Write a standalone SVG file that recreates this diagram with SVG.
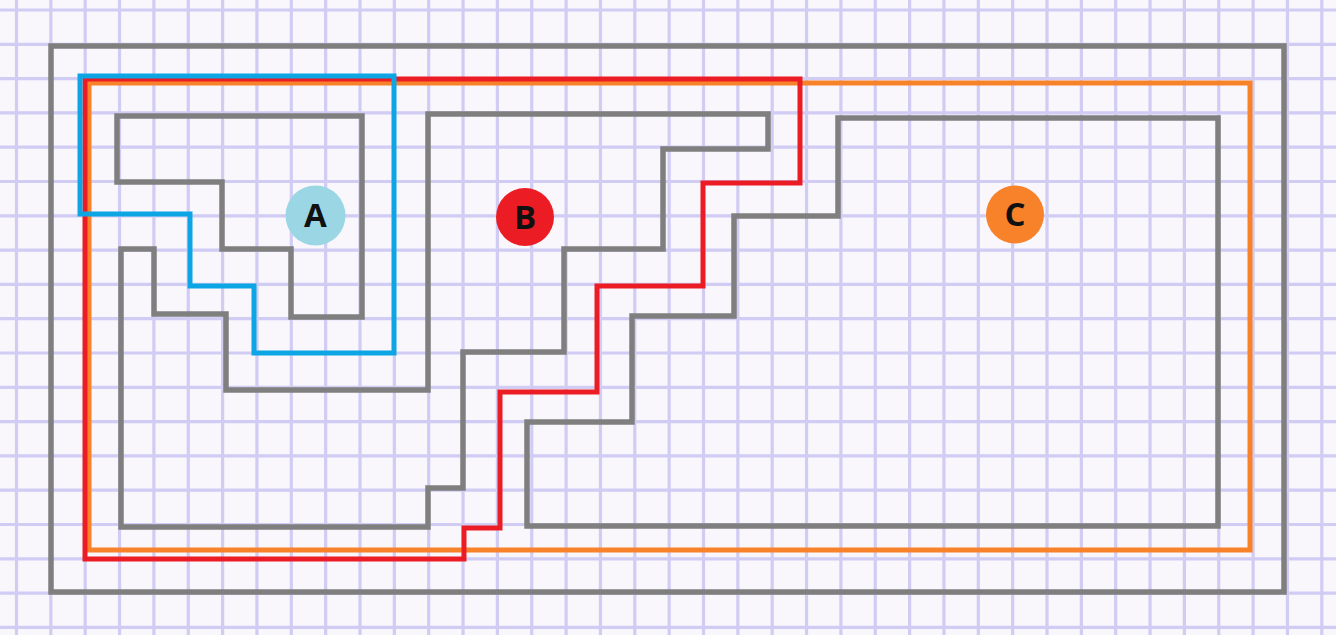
<svg xmlns="http://www.w3.org/2000/svg" width="1336" height="635" viewBox="0 0 1336 635">
<defs>
<style>
.grid{stroke:#d0ccf3;stroke-width:3.2;fill:none}
.wall{stroke:#7f7f7f;stroke-width:5.5;fill:none;stroke-linejoin:miter}
.pa{stroke:#0ea5e4;stroke-width:5;fill:none}
.pb{stroke:#ec1c24;stroke-width:5;fill:none}
.pc{stroke:#f7822a;stroke-width:5;fill:none}
.lbl{font-family:"Open Sans","Liberation Sans",sans-serif;font-weight:bold;font-size:33px;fill:#111;text-anchor:middle}
</style>
</defs>
<rect width="1336" height="635" fill="#f9f7fc"/>
<path class="grid" d="M16.5 0V635M50.85 0V635M85.2 0V635M119.55 0V635M153.9 0V635M188.25 0V635M222.6 0V635M256.95 0V635M291.3 0V635M325.65 0V635M360 0V635M394.35 0V635M428.7 0V635M463.05 0V635M497.4 0V635M531.75 0V635M566.1 0V635M600.45 0V635M634.8 0V635M669.15 0V635M703.5 0V635M737.85 0V635M772.2 0V635M806.55 0V635M840.9 0V635M875.25 0V635M909.6 0V635M943.95 0V635M978.3 0V635M1012.65 0V635M1047 0V635M1081.35 0V635M1115.7 0V635M1150.05 0V635M1184.4 0V635M1218.75 0V635M1253.1 0V635M1287.45 0V635M1321.8 0V635M0 10H1336M0 44.3H1336M0 78.6H1336M0 112.9H1336M0 147.2H1336M0 181.5H1336M0 215.8H1336M0 250.1H1336M0 284.4H1336M0 318.7H1336M0 353H1336M0 387.3H1336M0 421.6H1336M0 455.9H1336M0 490.2H1336M0 524.5H1336M0 558.8H1336M0 593.1H1336M0 627.4H1336"/>
<g id="walls">
<rect class="wall" x="51" y="46" width="1233" height="546"/>
<polygon class="wall" points="117,116 362,116 362,317 291,317 291,249 222,249 222,182 117,182"/>
<polygon class="wall" points="121,249 154,249 154,314 226,314 226,390 428,390 428,114 768,114 768,149 663,149 663,249 564,249 564,352 463,352 463,488 428,488 428,527 121,527"/>
<polygon class="wall" points="838,118 1218,118 1218,526 527,526 527,422 632,422 632,316 734,316 734,216 838,216"/>
</g>
<g id="connectors">
<polygon id="region-c" class="pc" points="89,83 1250,83 1250,550 89,550"/>
<polygon id="region-b" class="pb" points="85,79 800,79 800,183 703,183 703,286 597,286 597,392 500,392 500,528 464,528 464,559 85,559"/>
<polygon id="region-a" class="pa" points="80,76 394,76 394,353 254,353 254,286 190,286 190,214 80,214"/>
</g>
<g id="node-a">
<circle cx="315.5" cy="215.5" r="30" fill="#9ad6e4"/>
<text class="lbl" x="315.5" y="227">A</text>
</g>
<g id="node-b">
<circle cx="525" cy="217" r="29" fill="#ec1c24"/>
<text class="lbl" x="525" y="228.5">B</text>
</g>
<g id="node-c">
<circle cx="1015" cy="214.5" r="29" fill="#f7822a"/>
<text class="lbl" x="1015" y="226">C</text>
</g>
</svg>
